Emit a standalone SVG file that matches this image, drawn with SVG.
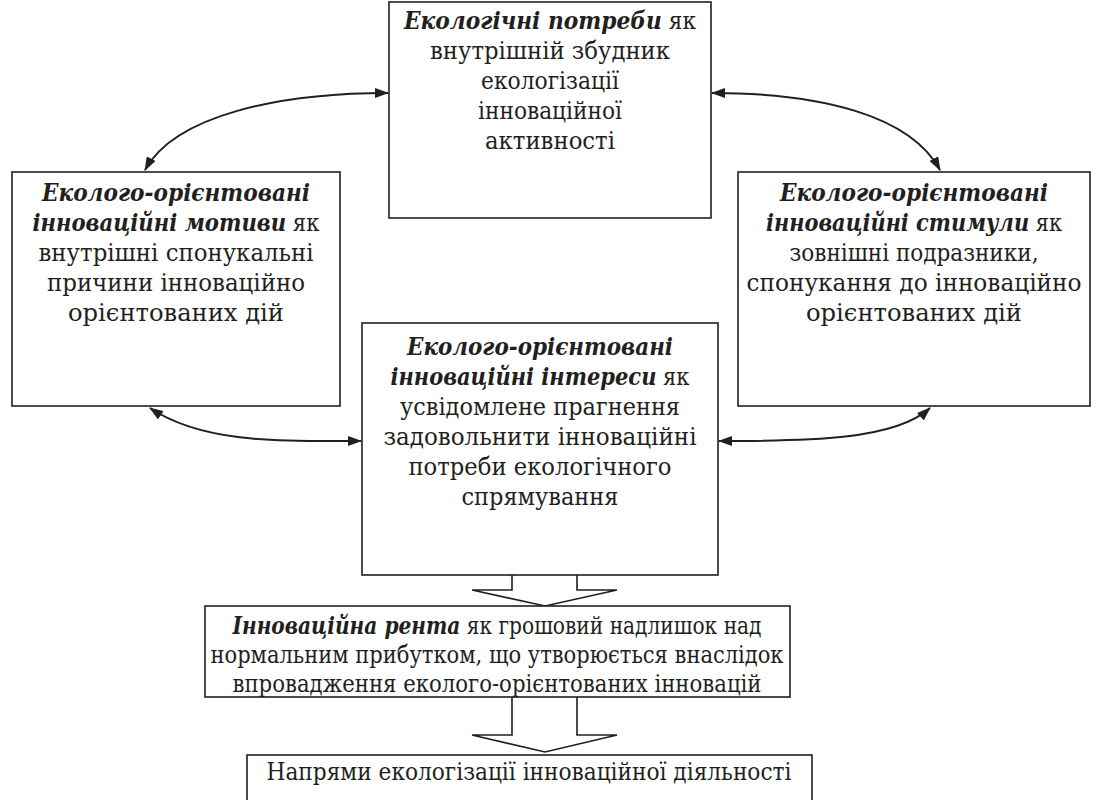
<svg xmlns="http://www.w3.org/2000/svg" width="1099" height="800" viewBox="0 0 1099 800">
<style>
.box{fill:#fff;stroke:#231f20;stroke-width:1.6}
text{font-family:"DejaVu Serif",serif;font-stretch:condensed;font-size:25px;fill:#231f20;text-anchor:middle}
.b{font-weight:bold;font-style:italic}
.c{fill:none;stroke:#231f20;stroke-width:2}
.h{fill:#fff;stroke:#231f20;stroke-width:1.6}
</style>
<defs>
<marker id="ah" viewBox="0 0 14 10" refX="13" refY="5" markerWidth="14" markerHeight="10" markerUnits="userSpaceOnUse" orient="auto-start-reverse">
<path d="M0,0 L14,5 L0,10 z" fill="#231f20"/>
</marker>
</defs>
<rect width="1099" height="800" fill="#fff"/>
<g id="connectors">
<path class="c" d="M145,170 C175,115 280,93 388,93" marker-start="url(#ah)" marker-end="url(#ah)"/>
<path class="c" d="M712,93 C820,93 910,115 940,170" marker-start="url(#ah)" marker-end="url(#ah)"/>
<path class="c" d="M150,408 C205,445 290,441 361,441" marker-start="url(#ah)" marker-end="url(#ah)"/>
<path class="c" d="M719,441 C810,441 895,440 930,408" marker-start="url(#ah)" marker-end="url(#ah)"/>
<path class="h" d="M512,575 L512,590 L472,590 L545,606 L617,590 L577,590 L577,575"/>
<path class="h" d="M512,697 L512,735 L472,735 L545,752 L617,735 L577,735 L577,697"/>
</g>
<g id="n1">
<rect class="box" x="389" y="2" width="322" height="216"/>
<text x="550" y="29" textLength="292" lengthAdjust="spacingAndGlyphs"><tspan class="b">Екологічні потреби</tspan> як</text>
<text x="550" y="59" textLength="240" lengthAdjust="spacingAndGlyphs">внутрішній збудник</text>
<text x="550" y="89" textLength="138" lengthAdjust="spacingAndGlyphs">екологізації</text>
<text x="550" y="119" textLength="144" lengthAdjust="spacingAndGlyphs">інноваційної</text>
<text x="550" y="149" textLength="130" lengthAdjust="spacingAndGlyphs">активності</text>
</g>
<g id="n2">
<rect class="box" x="12" y="172" width="328" height="234"/>
<text x="176" y="201" textLength="268" lengthAdjust="spacingAndGlyphs"><tspan class="b">Еколого-орієнтовані</tspan></text>
<text x="176" y="231" textLength="287" lengthAdjust="spacingAndGlyphs"><tspan class="b">інноваційні мотиви</tspan> як</text>
<text x="176" y="261" textLength="275" lengthAdjust="spacingAndGlyphs">внутрішні спонукальні</text>
<text x="176" y="291" textLength="258" lengthAdjust="spacingAndGlyphs">причини інноваційно</text>
<text x="176" y="321" textLength="216" lengthAdjust="spacingAndGlyphs">орієнтованих дій</text>
</g>
<g id="n3">
<rect class="box" x="738" y="172" width="352" height="234"/>
<text x="914" y="201" textLength="268" lengthAdjust="spacingAndGlyphs"><tspan class="b">Еколого-орієнтовані</tspan></text>
<text x="914" y="231" textLength="296" lengthAdjust="spacingAndGlyphs"><tspan class="b">інноваційні стимули</tspan> як</text>
<text x="914" y="261" textLength="249" lengthAdjust="spacingAndGlyphs">зовнішні подразники,</text>
<text x="914" y="291" textLength="335" lengthAdjust="spacingAndGlyphs">спонукання до інноваційно</text>
<text x="914" y="321" textLength="216" lengthAdjust="spacingAndGlyphs">орієнтованих дій</text>
</g>
<g id="n4">
<rect class="box" x="362" y="323" width="356" height="252"/>
<text x="540" y="355" textLength="266" lengthAdjust="spacingAndGlyphs"><tspan class="b">Еколого-орієнтовані</tspan></text>
<text x="540" y="385" textLength="299" lengthAdjust="spacingAndGlyphs"><tspan class="b">інноваційні інтереси</tspan> як</text>
<text x="540" y="415" textLength="280" lengthAdjust="spacingAndGlyphs">усвідомлене прагнення</text>
<text x="540" y="445" textLength="313" lengthAdjust="spacingAndGlyphs">задовольнити інноваційні</text>
<text x="540" y="475" textLength="263" lengthAdjust="spacingAndGlyphs">потреби екологічного</text>
<text x="540" y="505" textLength="157" lengthAdjust="spacingAndGlyphs">спрямування</text>
</g>
<g id="n5">
<rect class="box" x="205" y="606" width="585" height="91"/>
<text x="497" y="634" textLength="529" lengthAdjust="spacingAndGlyphs"><tspan class="b">Інноваційна рента</tspan> як грошовий надлишок над</text>
<text x="497" y="663" textLength="573" lengthAdjust="spacingAndGlyphs">нормальним прибутком, що утворюється внаслідок</text>
<text x="497" y="692" textLength="529" lengthAdjust="spacingAndGlyphs">впровадження еколого-орієнтованих інновацій</text>
</g>
<g id="n6">
<rect class="box" x="247" y="755" width="565" height="60"/>
<text x="529" y="780" textLength="525" lengthAdjust="spacingAndGlyphs">Напрями екологізації інноваційної діяльності</text>
</g>
</svg>
